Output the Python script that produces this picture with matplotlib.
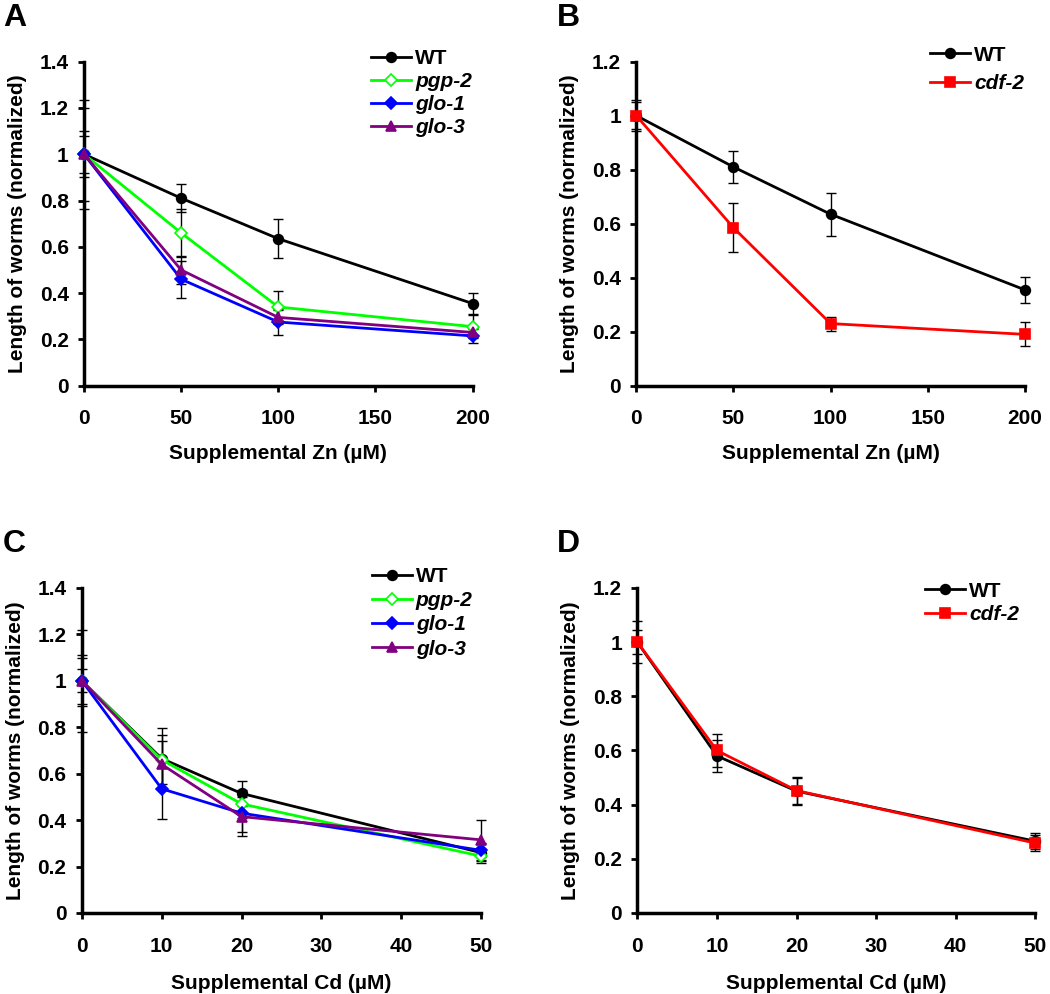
import matplotlib
matplotlib.use('Agg')
import matplotlib.pyplot as plt

plt.rcParams['font.family'] = ['Liberation Sans', 'DejaVu Sans']
plt.rcParams['font.weight'] = 'bold'

# Zn panels (A, B)
zn_dose = [0, 50, 100, 200]
zn_wt = [1.0, 0.81, 0.635, 0.355]
zn_wt_err = [0.08, 0.06, 0.083, 0.047]
zn_pgp2 = [1.0, 0.66, 0.34, 0.255]
zn_pgp2_err = [0.1, 0.105, 0.07, 0.05]
zn_glo1 = [1.0, 0.46, 0.275, 0.215]
zn_glo1_err = [0.2, 0.08, 0.055, 0.03]
zn_glo3 = [1.0, 0.50, 0.295, 0.23]
zn_glo3_err = [0.235, 0.06, 0.03, 0.02]
zn_wt_b_err = [0.057, 0.06, 0.08, 0.047]
zn_cdf2 = [1.0, 0.585, 0.23, 0.19]
zn_cdf2_err = [0.05, 0.09, 0.026, 0.044]

# Cd panels (C, D)
cd_dose = [0, 10, 20, 50]
cd_wt = [1.0, 0.665, 0.515, 0.26]
cd_wt_err = [0.1, 0.13, 0.055, 0.035]
cd_pgp2 = [1.0, 0.66, 0.47, 0.245]
cd_pgp2_err = [0.05, 0.105, 0.06, 0.03]
cd_glo1 = [1.0, 0.535, 0.43, 0.27]
cd_glo1_err = [0.22, 0.13, 0.08, 0.03]
cd_glo3 = [1.0, 0.64, 0.415, 0.315]
cd_glo3_err = [0.11, 0.10, 0.085, 0.085]
cd_wt_d = [1.0, 0.58, 0.45, 0.265]
cd_wt_d_err = [0.077, 0.06, 0.05, 0.03]
cd_cdf2 = [1.0, 0.60, 0.452, 0.258]
cd_cdf2_err = [0.045, 0.06, 0.05, 0.03]

GREEN = '#00ff00'
BLUE = '#0000ff'
PURPLE = '#800080'
RED = '#ff0000'

fig = plt.figure(figsize=(10.5, 9.94), dpi=100)


def draw(ax, x, series, xmax, xticks, ymax, xlabel, leg_anchor, leg_space, xlabelpad):
    for y, err, color, marker, mfc, label, ital in series:
        ax.errorbar(x, y, yerr=err, fmt='none', ecolor='black', elinewidth=1,
                    capsize=3.8, capthick=1, clip_on=False, zorder=2)
    for y, err, color, marker, mfc, label, ital in series:
        ms = {'o': 7, 'D': 6.5, '^': 7.5, 's': 7.5}[marker]
        ax.plot(x, y, color=color, lw=2, marker=marker, ms=ms,
                mfc=mfc, mec=color, mew=1.2, label=label, clip_on=False, zorder=3)
    ax.set_xlim(0, xmax)
    ax.set_ylim(0, ymax)
    ax.set_xticks(xticks)
    ax.set_yticks([round(v * 0.2, 1) for v in range(int(round(ymax / 0.2)) + 1)])
    ax.set_yticklabels([f'{v:g}' for v in ax.get_yticks()])
    for s in ['top', 'right']:
        ax.spines[s].set_visible(False)
    for s in ['left', 'bottom']:
        ax.spines[s].set_linewidth(2.5)
    ax.tick_params(axis='both', direction='out', length=4, width=2, labelsize=15)
    ax.tick_params(axis='x', pad=13)
    ax.tick_params(axis='y', pad=7)
    ax.set_xlabel(xlabel, fontsize=15, fontweight='bold', labelpad=xlabelpad)
    ax.set_ylabel('Length of worms (normalized)', fontsize=15, fontweight='bold', labelpad=9)
    leg = ax.legend(loc='upper right', bbox_to_anchor=leg_anchor, frameon=False,
                    fontsize=15, handlelength=1.9, handletextpad=0.2, labelspacing=leg_space,
                    borderaxespad=0)
    for t, s in zip(leg.get_texts(), series):
        t.set_fontweight('bold')
        if s[6]:
            t.set_style('italic')


axA = fig.add_axes([0.080, 0.612, 0.370, 0.326])
draw(axA, zn_dose, [
    (zn_wt, zn_wt_err, 'black', 'o', 'black', 'WT', False),
    (zn_pgp2, zn_pgp2_err, GREEN, 'D', 'white', 'pgp-2', True),
    (zn_glo1, zn_glo1_err, BLUE, 'D', BLUE, 'glo-1', True),
    (zn_glo3, zn_glo3_err, PURPLE, '^', PURPLE, 'glo-3', True),
], 200, [0, 50, 100, 150, 200], 1.4, 'Supplemental Zn (µM)', (1.02, 1.065), 0.2, 11)

axB = fig.add_axes([0.606, 0.612, 0.370, 0.326])
draw(axB, zn_dose, [
    (zn_wt, zn_wt_b_err, 'black', 'o', 'black', 'WT', False),
    (zn_cdf2, zn_cdf2_err, RED, 's', RED, 'cdf-2', True),
], 200, [0, 50, 100, 150, 200], 1.2, 'Supplemental Zn (µM)', (1.02, 1.075), 0.45, 11)

axC = fig.add_axes([0.078, 0.0815, 0.380, 0.327])
draw(axC, cd_dose, [
    (cd_wt, cd_wt_err, 'black', 'o', 'black', 'WT', False),
    (cd_pgp2, cd_pgp2_err, GREEN, 'D', 'white', 'pgp-2', True),
    (cd_glo1, cd_glo1_err, BLUE, 'D', BLUE, 'glo-1', True),
    (cd_glo3, cd_glo3_err, PURPLE, '^', PURPLE, 'glo-3', True),
], 50, [0, 10, 20, 30, 40, 50], 1.4, 'Supplemental Cd (µM)', (1.0, 1.09), 0.25, 13)

axD = fig.add_axes([0.607, 0.0815, 0.379, 0.327])
draw(axD, cd_dose, [
    (cd_wt_d, cd_wt_d_err, 'black', 'o', 'black', 'WT', False),
    (cd_cdf2, cd_cdf2_err, RED, 's', RED, 'cdf-2', True),
], 50, [0, 10, 20, 30, 40, 50], 1.2, 'Supplemental Cd (µM)', (0.98, 1.045), 0.2, 13)

for lab, x, y in [('A', 0.003, 0.997), ('B', 0.530, 0.997), ('C', 0.003, 0.468), ('D', 0.530, 0.468)]:
    fig.text(x, y, lab, fontsize=23, fontweight='bold', va='top', ha='left')

fig.savefig('out.png', dpi=100)
